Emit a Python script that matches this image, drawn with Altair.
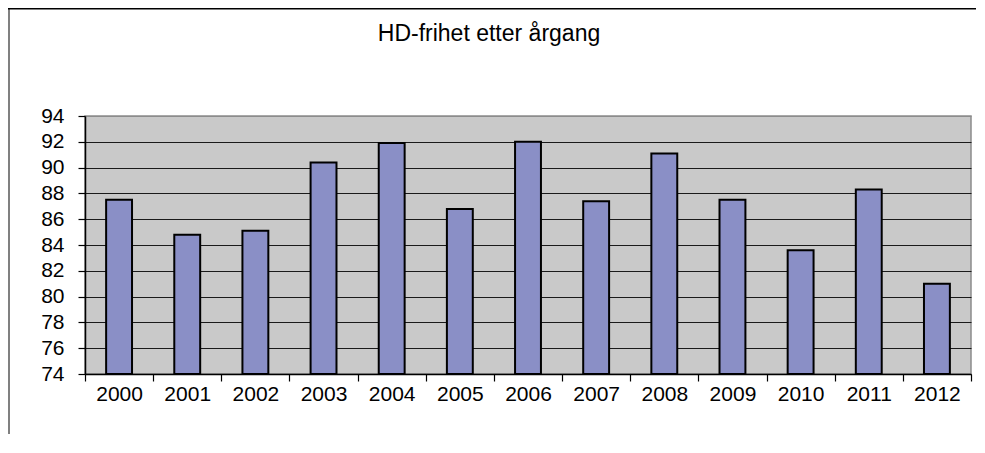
import altair as alt
import pandas as pd

years = ["2000", "2001", "2002", "2003", "2004", "2005", "2006",
         "2007", "2008", "2009", "2010", "2011", "2012"]
values = [87.5, 84.8, 85.1, 90.4, 91.9, 86.8, 92.0, 87.4, 91.1, 87.5, 83.6, 88.3, 81.0]
y_ticks = [74, 76, 78, 80, 82, 84, 86, 88, 90, 92, 94]
title_text = "HD-frihet etter årgang"

df = pd.DataFrame({"year": years, "value": values})

W, H = 886, 258
FONT = "Liberation Sans"

bars = alt.Chart(df).mark_bar(
    width=alt.RelativeBandSize(0.38),
    color="#8A8FC6",
    stroke="black",
    strokeWidth=2,
).encode(
    x=alt.X(
        "year:N",
        sort=years,
        scale=alt.Scale(paddingInner=0, paddingOuter=0),
        axis=alt.Axis(
            title=None, labelAngle=0, labelFont=FONT, labelFontSize=21,
            labelColor="black", tickBand="extent", tickSize=7, tickColor="black",
            tickWidth=1.2, domainColor="black", domainWidth=1.5, labelPadding=2,
            grid=False,
        ),
    ),
    y=alt.Y(
        "value:Q",
        scale=alt.Scale(domain=[74, 94], nice=False, zero=False),
        axis=alt.Axis(
            title=None, values=y_ticks, labelFont=FONT, labelFontSize=21,
            labelColor="black", labelPadding=14, tickSize=7, tickColor="black",
            tickWidth=1.2, domainColor="black", domainWidth=1.5,
            labelOverlap=False, labelFlush=False,
            grid=True, gridWidth=1.2,
            gridColor=alt.condition("datum.value === 94", alt.value("#8c8c8c"), alt.value("#1a1a1a")),
        ),
    ),
    y2=alt.datum(74),
)

title = alt.Chart(pd.DataFrame({"t": [title_text]})).mark_text(
    font=FONT, fontSize=23, align="center", baseline="alphabetic", color="black"
).encode(text="t:N", x=alt.value(404), y=alt.value(-75))

left_border = alt.Chart(pd.DataFrame({"a": [0]})).mark_rule(
    color="#808080", strokeWidth=2
).encode(x=alt.value(-76), y=alt.value(-108), y2=alt.value(H + 80))

top_border = alt.Chart(pd.DataFrame({"a": [0]})).mark_rule(
    color="black", strokeWidth=1.5
).encode(x=alt.value(-77), x2=alt.value(W + 10), y=alt.value(-107.25))

chart = alt.layer(bars, title, left_border, top_border).properties(
    width=W,
    height=H,
    autosize=alt.AutoSizeParams(type="none"),
    padding={"left": 77, "top": 108, "right": 5, "bottom": 60},
    background="white",
).configure_view(
    fill="#C9C9C9", stroke="#8c8c8c", strokeWidth=1.5
)

chart.save("out.html", embed_options={"renderer": "svg", "actions": False})
